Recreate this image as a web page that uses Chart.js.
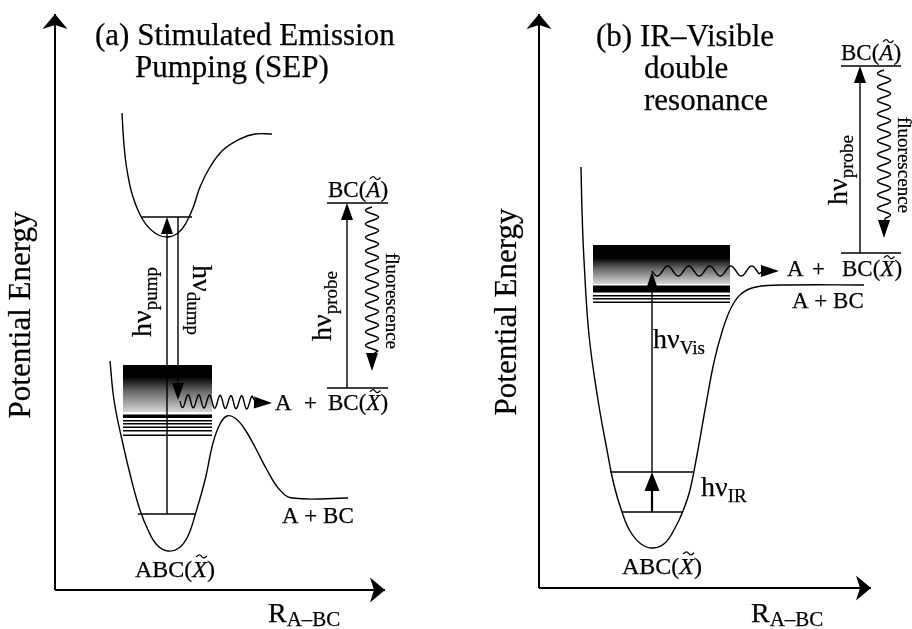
<!DOCTYPE html>
<html>
<head>
<meta charset="utf-8">
<script src="https://cdn.jsdelivr.net/npm/chart.js@4.4.1/dist/chart.umd.min.js"></script>
<style>
  html, body { margin: 0; padding: 0; background: #fff; }
  canvas { display: block; }
</style>
</head>
<body>
<canvas id="diagram" width="912" height="629"></canvas>
<script>
// Potential energy curves (x = R, y = energy, y axis reversed)
const excitedCurveA = [[122,113],[124,145],[127,170],[133,197],[143,220],[155,233],[167,237],[178,233],[186,223],[193,208],[200,187],[210,167],[223,150],[240,139],[255,134],[272,134]];
const groundCurveA = [[110,361],[114,400],[122,440],[132,482],[140,510],[148,530],[157,545],[168,551],[179,548],[188,536],[196,512],[205,480],[213,443],[220,424],[227,416],[235,418],[244,428],[255,447],[267,470],[279,489],[292,498],[348,498]];
const groundCurveB = [[581,167],[582,210],[584,260],[589,335],[598,400],[607,450],[614,485],[622,512],[630,531],[641,544],[653,548],[665,543],[675,528],[683,511],[690,490],[697,455],[705,410],[714,362],[722,332],[731,308],[741,294],[756,287],[789,285],[864,285]];

// axes: [x0, y0, x1, y1] (arrow at the end)
const axisArrows = [[55,590,55,14],[55,590,385,590],[539,588,539,14],[539,588,871,588]];
// vibrational / product levels: [xFrom, xTo, y]
const levels = [[142,192,217],[138,195,514],[327,388,203],[327,388,388],[610,693,472],[622,683,512],[841,901,66],[841,901,253]];
// photon arrows: [x, yFrom, yTo]
const photonArrows = [[167,514,217],[178,217,400],[347,388,203],[652,512,472],[652,472,272],[860,253,66]];
// wavy arrows: [x0, y0, x1, y1]
const wavyArrows = [[180,401,272,403],[372,207,372,371],[652,271,779,271],[884,70,884,238]];
// dense level bands: [x0, x1, solidTop, solidEnd, fadeEnd]
const bands = [[123,212,365,377,412],[593,730,245,258,284]];
const bandLinesA = [[414.5,418],[420,421.5],[423,424.5],[426.5,428],[430,431.5],[434.5,436]];
const bandLinesB = [[285.5,292.5],[295,296.5],[298,299.5],[301.5,303]];

const FONT = '"Liberation Serif", "Times New Roman", serif';

function seg(a, b) { return [{x: a[0], y: a[1]}, {x: b[0], y: b[1]}]; }
function line(data, width, tension) {
    return { data, showLine: true, borderColor: '#000', borderWidth: width, pointRadius: 0, tension: tension || 0, fill: false };
}

const datasets = [
    line(excitedCurveA.map(p => ({x: p[0], y: p[1]})), 1.4, 0.4),
    line(groundCurveA.map(p => ({x: p[0], y: p[1]})), 1.4, 0.4),
    line(groundCurveB.map(p => ({x: p[0], y: p[1]})), 1.4, 0.4)
];
axisArrows.forEach(a => datasets.push(line(seg([a[0], a[1]], [a[2], a[3]]), 2)));
levels.forEach(l => datasets.push(line(seg([l[0], l[2]], [l[1], l[2]]), 1.4)));
photonArrows.forEach((a, i) => {
    const dir = Math.sign(a[2] - a[1]);
    datasets.push(line(seg([a[0], a[1]], [a[0], a[2] - dir * 8]), i === 3 ? 2.2 : 1.4));
});

function head(ctx, tx, ty, dx, dy, len, hw, notch) {
    const bx = tx - dx * len, by = ty - dy * len;
    const nx = -dy, ny = dx;
    ctx.beginPath();
    ctx.moveTo(tx, ty);
    ctx.lineTo(bx + nx * hw, by + ny * hw);
    ctx.lineTo(tx - dx * (len - notch), ty - dy * (len - notch));
    ctx.lineTo(bx - nx * hw, by - ny * hw);
    ctx.closePath();
    ctx.fill();
}

function tilde(ctx, cx, cy, w, h) {
    ctx.save();
    ctx.lineWidth = 1.2;
    ctx.beginPath();
    ctx.moveTo(cx - w / 2, cy + h * 0.3);
    ctx.bezierCurveTo(cx - w / 4, cy - h, cx - w / 8, cy - h, cx, cy);
    ctx.bezierCurveTo(cx + w / 8, cy + h, cx + w / 4, cy + h, cx + w / 2, cy - h * 0.3);
    ctx.stroke();
    ctx.restore();
}

function fontOf(p) { return (p.it ? 'italic ' : '') + (p.b ? 'bold ' : '') + p.s + 'px ' + FONT; }

function rich(ctx, x, y, rot, parts, center) {
    ctx.save();
    ctx.translate(x, y);
    if (rot) ctx.rotate(rot);
    let total = 0;
    parts.forEach(p => { ctx.font = fontOf(p); total += ctx.measureText(p.t).width + (p.gap || 0); });
    let cx = center ? -total / 2 : 0;
    ctx.lineWidth = 0.25;
    parts.forEach(p => {
        ctx.font = fontOf(p);
        ctx.fillText(p.t, cx, p.dy || 0);
        ctx.strokeText(p.t, cx, p.dy || 0);
        const w = ctx.measureText(p.t).width;
        if (p.tilde) tilde(ctx, cx + w / 2 + p.s * 0.08, -p.s * p.tilde, w * 0.75, p.s * 0.09);
        cx += w + (p.gap || 0);
    });
    ctx.restore();
}

function hv(sub, s, ss) {
    return [{t: 'hν', s: s}, {t: sub, s: ss, dy: 6}];
}

const diagramPlugin = {
    id: 'diagram',
    beforeDatasetsDraw(chart) {
        const ctx = chart.ctx, xs = chart.scales.x, ys = chart.scales.y;
        bands.forEach((b, i) => {
            const x0 = xs.getPixelForValue(b[0]), x1 = xs.getPixelForValue(b[1]);
            const y0 = ys.getPixelForValue(b[2]), y1 = ys.getPixelForValue(b[3]), y2 = ys.getPixelForValue(b[4]);
            ctx.fillStyle = '#000';
            ctx.fillRect(x0, y0, x1 - x0, y1 - y0);
            const g = ctx.createLinearGradient(0, y1, 0, y2);
            g.addColorStop(0, '#000');
            g.addColorStop(0.4, '#666');
            g.addColorStop(1, '#d6d6d6');
            ctx.fillStyle = g;
            ctx.fillRect(x0, y1, x1 - x0, y2 - y1);
            ctx.fillStyle = '#000';
            (i === 0 ? bandLinesA : bandLinesB).forEach(l => {
                const a = ys.getPixelForValue(l[0]), c = ys.getPixelForValue(l[1]);
                ctx.fillRect(x0, a, x1 - x0, c - a);
            });
        });
    },
    afterDatasetsDraw(chart) {
        const ctx = chart.ctx, xs = chart.scales.x, ys = chart.scales.y;
        const px = v => xs.getPixelForValue(v), py = v => ys.getPixelForValue(v);
        ctx.save();
        ctx.fillStyle = '#000';
        ctx.strokeStyle = '#000';

        // axis arrowheads
        axisArrows.forEach(a => {
            const dx = Math.sign(a[2] - a[0]), dy = Math.sign(a[3] - a[1]);
            head(ctx, px(a[2]), py(a[3]), dx, dy, 15, 12.5, 4);
        });
        // photon arrowheads
        photonArrows.forEach((a, i) => {
            const dir = Math.sign(a[2] - a[1]);
            const big = i === 3;
            head(ctx, px(a[0]), py(a[2]), 0, dir, big ? 19 : 17, big ? 7.5 : 6, 0);
        });
        // wavy arrows
        ctx.lineWidth = 1.4;
        wavyArrows.forEach((w, i) => {
            const x0 = px(w[0]), y0 = py(w[1]), x1 = px(w[2]), y1 = py(w[3]);
            const len = Math.hypot(x1 - x0, y1 - y0);
            const dx = (x1 - x0) / len, dy = (y1 - y0) / len;
            const nx = -dy, ny = dx;
            const hl = 18;
            const amp = [6.5, 6.5, 5, 6.5][i], wl = [10.7, 13.5, 21, 13.5][i];
            const run = len - hl - 2;
            ctx.beginPath();
            for (let s = 0; s <= run; s += 0.5) {
                const o = amp * Math.sin(2 * Math.PI * s / wl);
                const x = x0 + dx * s + nx * o, y = y0 + dy * s + ny * o;
                if (s === 0) ctx.moveTo(x, y); else ctx.lineTo(x, y);
            }
            ctx.lineTo(x1 - dx * (hl - 2), y1 - dy * (hl - 2));
            ctx.stroke();
            head(ctx, x1, y1, dx, dy, hl, 6, 0);
        });

        ctx.textBaseline = 'alphabetic';
        // Panel (a)
        rich(ctx, px(95), py(45), 0, [{t: '(a) Stimulated Emission', s: 31}]);
        rich(ctx, px(135), py(77), 0, [{t: 'Pumping (SEP)', s: 31}]);
        rich(ctx, px(30), py(315), -Math.PI / 2, [{t: 'Potential Energy', s: 31}], true);
        rich(ctx, px(268), py(622), 0, [{t: 'R', s: 28}, {t: 'A–BC', s: 21, dy: 4}]);
        rich(ctx, px(151), py(337), -Math.PI / 2, hv('pump', 28, 19));
        rich(ctx, px(193), py(265), Math.PI / 2, hv('dump', 28, 19));
        rich(ctx, px(331), py(341), -Math.PI / 2, hv('probe', 28, 19));
        rich(ctx, px(386), py(253), Math.PI / 2, [{t: 'fluorescence', s: 19}]);
        rich(ctx, px(328), py(197), 0, [{t: 'BC(', s: 23}, {t: 'A', s: 23, it: true, tilde: 0.82}, {t: ')', s: 23}]);
        rich(ctx, px(275), py(410), 0, [{t: 'A', s: 23}]);
        rich(ctx, px(304), py(410), 0, [{t: '+', s: 23}]);
        rich(ctx, px(328), py(410), 0, [{t: 'BC(', s: 23}, {t: 'X', s: 23, it: true, tilde: 0.82}, {t: ')', s: 23}]);
        rich(ctx, px(282), py(523), 0, [{t: 'A + BC', s: 23}]);
        rich(ctx, px(135), py(577), 0, [{t: 'ABC(', s: 24}, {t: 'X', s: 24, it: true, tilde: 0.86}, {t: ')', s: 24}]);

        // Panel (b)
        rich(ctx, px(596), py(46), 0, [{t: '(b) IR–Visible', s: 31}]);
        rich(ctx, px(644), py(78), 0, [{t: 'double', s: 31}]);
        rich(ctx, px(644), py(110), 0, [{t: 'resonance', s: 31}]);
        rich(ctx, px(516), py(312), -Math.PI / 2, [{t: 'Potential Energy', s: 31}], true);
        rich(ctx, px(751), py(622), 0, [{t: 'R', s: 28}, {t: 'A–BC', s: 21, dy: 4}]);
        rich(ctx, px(653), py(348), 0, hv('Vis', 28, 19));
        rich(ctx, px(701), py(496), 0, hv('IR', 28, 19));
        rich(ctx, px(847), py(205), -Math.PI / 2, hv('probe', 28, 19));
        rich(ctx, px(898), py(117), Math.PI / 2, [{t: 'fluorescence', s: 19}]);
        rich(ctx, px(841), py(60), 0, [{t: 'BC(', s: 23}, {t: 'A', s: 23, it: true, tilde: 0.82}, {t: ')', s: 23}]);
        rich(ctx, px(787), py(276), 0, [{t: 'A', s: 23}]);
        rich(ctx, px(812), py(276), 0, [{t: '+', s: 23}]);
        rich(ctx, px(842), py(276), 0, [{t: 'BC(', s: 23}, {t: 'X', s: 23, it: true, tilde: 0.82}, {t: ')', s: 23}]);
        rich(ctx, px(792), py(308), 0, [{t: 'A + BC', s: 23}]);
        rich(ctx, px(622), py(574), 0, [{t: 'ABC(', s: 24}, {t: 'X', s: 24, it: true, tilde: 0.86}, {t: ')', s: 24}]);
        ctx.restore();
    }
};

new Chart(document.getElementById('diagram'), {
    type: 'scatter',
    data: { datasets },
    options: {
        responsive: false,
        animation: false,
        devicePixelRatio: 1,
        events: [],
        layout: { padding: 0 },
        scales: {
            x: { type: 'linear', min: 0, max: 912, display: false },
            y: { type: 'linear', min: 0, max: 629, reverse: true, display: false }
        },
        plugins: {
            legend: { display: false },
            tooltip: { enabled: false },
            title: { display: false }
        }
    },
    plugins: [diagramPlugin]
});
</script>
</body>
</html>
